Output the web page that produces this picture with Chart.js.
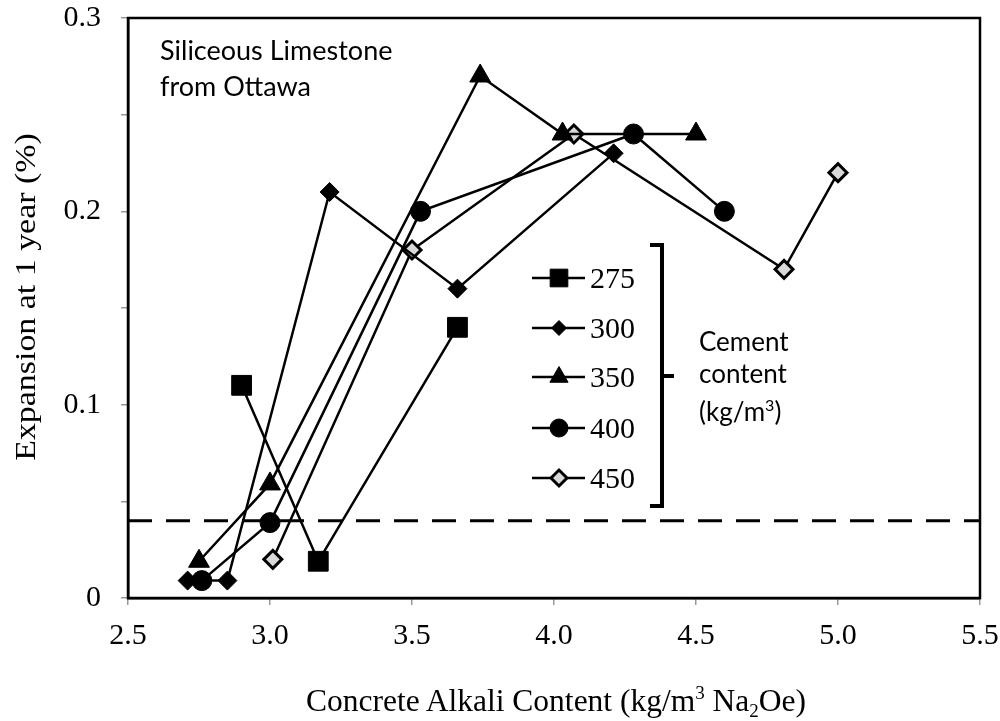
<!DOCTYPE html>
<html>
<head>
<meta charset="utf-8">
<script src="https://cdn.jsdelivr.net/npm/chart.js@4/dist/chart.umd.min.js"></script>
<style>
  html, body { margin: 0; padding: 0; background: #fff; }
  #wrap { position: relative; width: 1000px; height: 721px; overflow: hidden; }
  #wrap canvas { position: absolute; left: 0; top: 0; }
  .t { position: absolute; white-space: nowrap; color: #000; line-height: 1.2; }
  .serif { font-family: "Liberation Serif", "Times New Roman", serif; }
  .sans { font-family: Lato, "Open Sans", sans-serif; }
</style>
</head>
<body>
<div id="wrap">
  <canvas id="chart" width="1000" height="721"></canvas>

  <div class="t sans" style="left:160px; top:32px; font-size:27px; line-height:36px;">Siliceous Limestone<br>from Ottawa</div>

  <div class="t serif" id="leg-labels" style="left:590px; font-size:30px;"></div>

  <div class="t sans" style="left:699px; top:325px; font-size:26px; line-height:32px;">Cement<br>content<br>(kg/m<sup style="font-size:16px; vertical-align:10px;">3</sup>)</div>

  <div class="t serif" style="left:156px; width:800px; text-align:center; top:682px; font-size:31.5px;">Concrete Alkali Content (kg/m<sup style="font-size:19px; vertical-align:12px;">3</sup> Na<sub style="font-size:19px; vertical-align:-6px;">2</sub>Oe)</div>

  <div class="t serif" style="left:-175px; width:400px; text-align:center; top:279px; font-size:30px; transform:rotate(-90deg) scaleX(1.13);">Expansion at 1 year (%)</div>
</div>

<script>
/* Expansion vs concrete alkali content — scatter + lines, legend drawn by hand */

// === data ===
const X_MIN = 2.5, X_MAX = 5.5;
const Y_MIN = 0, Y_MAX = 0.3;
const X_TICKS = [2.5, 3.0, 3.5, 4.0, 4.5, 5.0, 5.5];
const Y_TICKS = [0, 0.1, 0.2, 0.3];
const LIMIT = 0.04;

const cementLabels = ["275", "300", "350", "400", "450"];

const alkali275 = [2.90, 3.17, 3.66];
const exp275    = [0.110, 0.019, 0.140];

const alkali300 = [2.71, 2.85, 3.21, 3.66, 4.21];
const exp300    = [0.009, 0.009, 0.210, 0.160, 0.230];

const alkali350 = [2.75, 3.00, 3.74, 4.03, 4.50];
const exp350    = [0.019, 0.059, 0.270, 0.240, 0.240];

const alkali400 = [2.76, 3.00, 3.53, 4.28, 4.60];
const exp400    = [0.009, 0.039, 0.200, 0.240, 0.200];

const alkali450 = [3.01, 3.50, 4.07, 4.81, 5.00];
const exp450    = [0.020, 0.180, 0.240, 0.170, 0.220];

// marker look per series (same order as cementLabels)
const MARKERS = [
  { style: "rect",     r: 14,  fill: "#000",    bw: 1, legR: 12.5 },
  { style: "rectRot",  r: 9.5, fill: "#000",    bw: 1, legR: 7.5 },
  { style: "triangle", r: 12,  fill: "#000",    bw: 1, legR: 10.5 },
  { style: "circle",   r: 10,  fill: "#000",    bw: 1, legR: 9 },
  { style: "rectRot",  r: 9,   fill: "#d9d9d9", bw: 3, legR: 8 },
];

const pts = (xs, ys) => xs.map((x, i) => ({ x: x, y: ys[i] }));
const SERIES = [
  pts(alkali275, exp275),
  pts(alkali300, exp300),
  pts(alkali350, exp350),
  pts(alkali400, exp400),
  pts(alkali450, exp450),
];

// === legend + bracket + frame ===
const LEG_X0 = 532, LEG_X1 = 585, LEG_MX = 559;
const LEG_Y = [278, 328, 377, 428, 478];

document.getElementById("leg-labels").innerHTML = cementLabels.map((c, i) =>
  '<div style="position:absolute; left:0; top:' + (LEG_Y[i] - 18) + 'px;">' + c + '</div>'
).join("");

const framePlugin = {
  id: "frame",
  afterDatasetsDraw(chart) {
    const { ctx, chartArea: a } = chart;
    ctx.save();
    ctx.strokeStyle = "#000";
    ctx.lineWidth = 2.5;
    ctx.strokeRect(a.left, a.top, a.right - a.left, a.bottom - a.top);

    // legend samples
    MARKERS.forEach((m, i) => {
      const y = LEG_Y[i];
      ctx.lineWidth = 2.5;
      ctx.strokeStyle = "#000";
      ctx.beginPath();
      ctx.moveTo(LEG_X0, y);
      ctx.lineTo(LEG_X1, y);
      ctx.stroke();
      ctx.fillStyle = m.fill;
      ctx.lineWidth = m.bw;
      Chart.helpers.drawPoint(ctx, { pointStyle: m.style, radius: m.legR, borderWidth: m.bw, rotation: 0 }, LEG_MX, y);
    });

    // bracket
    ctx.lineWidth = 4;
    ctx.strokeStyle = "#000";
    ctx.beginPath();
    ctx.moveTo(650, 245);
    ctx.lineTo(662, 245);
    ctx.lineTo(662, 506);
    ctx.lineTo(650, 506);
    ctx.moveTo(662, 376);
    ctx.lineTo(674, 376);
    ctx.stroke();
    ctx.restore();
  },
};

// === chart ===
const seriesSets = SERIES.map((data, i) => ({
  label: cementLabels[i],
  data: data,
  showLine: true,
  borderColor: "#000",
  borderWidth: 2.5,
  pointStyle: MARKERS[i].style,
  pointRadius: MARKERS[i].r,
  pointHoverRadius: MARKERS[i].r,
  pointBackgroundColor: MARKERS[i].fill,
  pointBorderColor: "#000",
  pointBorderWidth: MARKERS[i].bw,
}));

const limitSet = {
  label: "limit",
  data: [{ x: X_MIN, y: LIMIT }, { x: X_MAX, y: LIMIT }],
  showLine: true,
  borderColor: "#000",
  borderWidth: 3,
  borderDash: [24, 14],
  pointRadius: 0,
};

const SERIF = "'Liberation Serif', 'Times New Roman', serif";

new Chart(document.getElementById("chart"), {
  type: "scatter",
  data: { datasets: [limitSet].concat(seriesSets) },
  options: {
    responsive: false,
    animation: false,
    events: [],
    layout: { padding: { left: 0, right: 20, top: 18, bottom: 0 } },
    plugins: { legend: { display: false }, tooltip: { enabled: false } },
    scales: {
      x: {
        type: "linear",
        min: X_MIN, max: X_MAX,
        afterFit: s => { s.height = 123; s.paddingLeft = 0; s.paddingRight = 0; },
        afterBuildTicks: s => { s.ticks = X_TICKS.map(v => ({ value: v })); },
        ticks: {
          callback: v => Number(v).toFixed(1),
          font: { family: SERIF, size: 30 },
          color: "#000",
          padding: 13,
          maxRotation: 0,
        },
        grid: { display: true, drawOnChartArea: false, drawTicks: true, tickLength: 7, color: "#999", lineWidth: 1.5 },
        border: { display: true, color: "#000", width: 2.5 },
      },
      y: {
        type: "linear",
        min: Y_MIN, max: Y_MAX,
        afterFit: s => { s.width = 128; s.paddingTop = 0; s.paddingBottom = 0; },
        afterBuildTicks: s => {
          // minor ticks every 0.05, labels only at Y_TICKS
          const t = [];
          Y_TICKS.forEach((v, i) => {
            t.push({ value: v });
            if (i < Y_TICKS.length - 1) t.push({ value: (v + Y_TICKS[i + 1]) / 2 });
          });
          s.ticks = t;
        },
        ticks: {
          callback: v => Y_TICKS.some(t => Math.abs(t - v) < 1e-9) ? (v === 0 ? "0" : Number(v).toFixed(1)) : "",
          font: { family: SERIF, size: 30 },
          color: "#000",
          padding: 20,
        },
        grid: { display: true, drawOnChartArea: false, drawTicks: true, tickLength: 7, color: "#999", lineWidth: 1.5 },
        border: { display: true, color: "#000", width: 2.5 },
      },
    },
  },
  plugins: [framePlugin],
});
</script>
</body>
</html>
